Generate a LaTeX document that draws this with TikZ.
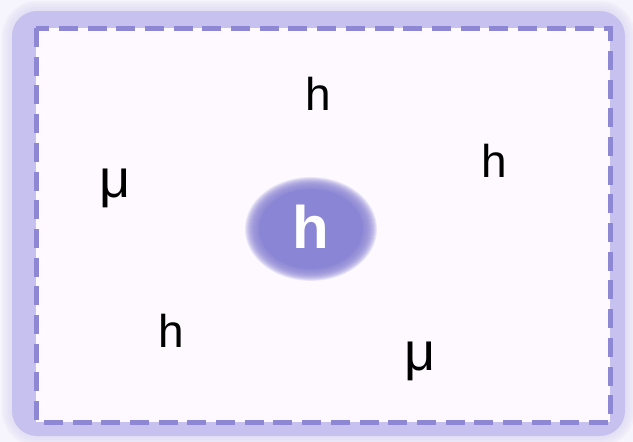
\documentclass[tikz,border=0pt]{standalone}
\usepackage{fontspec}
\setmainfont{Liberation Sans}
\definecolor{bgc}{HTML}{F6F4FC}
\definecolor{glowc}{HTML}{DCD8F4}
\definecolor{bandc}{HTML}{C6C1EE}
\definecolor{dashc}{HTML}{8E88D4}
\definecolor{innerc}{HTML}{FDF9FE}
\definecolor{blobc}{HTML}{8B85D5}
\tikzset{
  particle/.style={font=\fontsize{46}{46}\selectfont, text=black, inner sep=0pt},
  muon/.style={font=\fontsize{54}{54}\selectfont, text=black, inner sep=0pt},
  core/.style={font=\fontsize{60}{60}\selectfont\bfseries, text=white, inner sep=0pt},
  blobring/.style={fill=blobc, fill opacity=0.16},
}
\begin{document}
\begin{tikzpicture}[x=1pt,y=-1pt]
\useasboundingbox (0,0) rectangle (633,442);
\fill[bgc] (0,0) rectangle (633,442);
% glow
\foreach \g in {10,8,6,4,2}{
  \fill[glowc, opacity=0.18, rounded corners={25+\g}] (12-\g,11-\g) rectangle (625+\g,436+\g);
}
% outer band
\fill[bandc, rounded corners=25] (12,11) rectangle (625,436);
% inner area
\fill[innerc] (36,28) rectangle (610,422);
\draw[dashc, line width=5pt, dash pattern=on 19pt off 9.7pt] (36,28) rectangle (610,422);
% central blob (soft edge)
\foreach \i in {14,13,...,1}{
  \fill[blobring] (311,229) ellipse [x radius={52+\i}, y radius={40+0.85*\i}];
}
\fill[blobc] (311,229) ellipse [x radius=52, y radius=40];
\node[core] (c) at (311,227) {h};
% particles
\node[particle] (h1) at (318,94) {h};
\node[particle] (h2) at (494,161) {h};
\node[muon] (m1) at (115,188) {μ};
\node[particle] (h3) at (171,331) {h};
\node[muon] (m2) at (420,361) {μ};
\end{tikzpicture}
\end{document}
